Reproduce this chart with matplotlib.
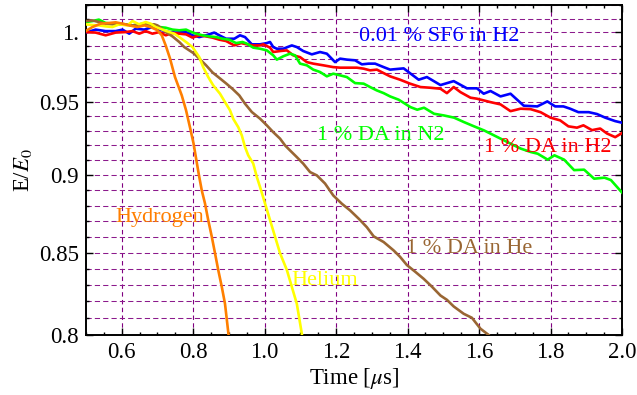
import matplotlib
matplotlib.use('Agg')
import matplotlib.pyplot as plt
from matplotlib.ticker import FixedLocator, FixedFormatter, NullFormatter
import numpy as np

# energy ratio E/E0 versus time in microseconds

sf6_h2_t = [0.499, 0.527, 0.555, 0.583, 0.602, 0.621, 0.639, 0.663, 0.686, 0.705,
            0.733, 0.751, 0.780, 0.798, 0.817, 0.836, 0.859, 0.873, 0.892, 0.915,
            0.931, 0.945, 0.964, 0.987, 1.006, 1.015, 1.024, 1.034, 1.052, 1.076,
            1.090, 1.108, 1.132, 1.155, 1.174, 1.197, 1.211, 1.230, 1.253, 1.272,
            1.291, 1.309, 1.333, 1.351, 1.389, 1.431, 1.454, 1.492, 1.529, 1.566,
            1.594, 1.613, 1.632, 1.660, 1.688, 1.725, 1.763, 1.791, 1.813, 1.836,
            1.855, 1.878, 1.907, 1.930, 1.953, 1.981, 2.000]
sf6_h2_v = [0.9996, 1.0018, 1.0007, 1.0007, 1.0018, 0.9988, 1.0025, 1.0018, 1.0037, 1.0018,
            1.0000, 0.9996, 1.0000, 0.9976, 0.9963, 0.9976, 0.9996, 0.9976, 0.9951, 0.9951,
            0.9976, 0.9963, 0.9910, 0.9910, 0.9919, 0.9927, 0.9890, 0.9878, 0.9878, 0.9902,
            0.9890, 0.9861, 0.9837, 0.9854, 0.9842, 0.9781, 0.9806, 0.9799, 0.9794, 0.9765,
            0.9770, 0.9770, 0.9745, 0.9727, 0.9736, 0.9655, 0.9674, 0.9617, 0.9645, 0.9594,
            0.9594, 0.9556, 0.9575, 0.9537, 0.9556, 0.9472, 0.9467, 0.9502, 0.9467, 0.9467,
            0.9451, 0.9427, 0.9427, 0.9414, 0.9389, 0.9365, 0.9354]

da_h2_t = [0.499, 0.527, 0.555, 0.583, 0.611, 0.630, 0.649, 0.667, 0.686, 0.705,
           0.723, 0.742, 0.761, 0.780, 0.798, 0.817, 0.836, 0.854, 0.873, 0.892,
           0.915, 0.934, 0.950, 0.968, 0.987, 0.996, 1.015, 1.024, 1.043, 1.062,
           1.080, 1.099, 1.118, 1.136, 1.164, 1.192, 1.211, 1.258, 1.277, 1.295,
           1.314, 1.333, 1.351, 1.379, 1.407, 1.436, 1.464, 1.492, 1.510, 1.529,
           1.548, 1.576, 1.594, 1.632, 1.660, 1.688, 1.716, 1.744, 1.772, 1.800,
           1.827, 1.850, 1.874, 1.892, 1.916, 1.939, 1.958, 1.981, 2.000]
da_h2_v = [1.0000, 0.9996, 0.9976, 0.9996, 1.0000, 1.0007, 0.9988, 1.0007, 0.9988, 1.0000,
           0.9976, 0.9993, 0.9988, 0.9983, 0.9959, 0.9976, 0.9968, 0.9959, 0.9944, 0.9934,
           0.9902, 0.9919, 0.9910, 0.9902, 0.9902, 0.9910, 0.9886, 0.9854, 0.9861, 0.9866,
           0.9830, 0.9817, 0.9781, 0.9770, 0.9758, 0.9745, 0.9741, 0.9741, 0.9734, 0.9722,
           0.9727, 0.9702, 0.9679, 0.9655, 0.9627, 0.9603, 0.9598, 0.9591, 0.9560, 0.9603,
           0.9567, 0.9528, 0.9521, 0.9497, 0.9481, 0.9434, 0.9451, 0.9448, 0.9427, 0.9389,
           0.9370, 0.9329, 0.9320, 0.9336, 0.9303, 0.9314, 0.9280, 0.9255, 0.9283]

da_n2_t = [0.499, 0.518, 0.536, 0.555, 0.574, 0.593, 0.611, 0.630, 0.649, 0.667,
           0.686, 0.705, 0.723, 0.742, 0.761, 0.780, 0.789, 0.808, 0.826, 0.845,
           0.864, 0.882, 0.901, 0.920, 0.938, 0.950, 0.968, 0.987, 1.006, 1.024,
           1.034, 1.052, 1.071, 1.085, 1.099, 1.118, 1.136, 1.155, 1.174, 1.192,
           1.211, 1.230, 1.253, 1.277, 1.295, 1.314, 1.333, 1.351, 1.375, 1.408,
           1.427, 1.446, 1.474, 1.502, 1.530, 1.558, 1.586, 1.614, 1.642, 1.670,
           1.698, 1.717, 1.745, 1.764, 1.792, 1.811, 1.838, 1.866, 1.894, 1.922,
           1.951, 1.969, 2.000]
da_n2_v = [1.0074, 1.0081, 1.0092, 1.0067, 1.0062, 1.0057, 1.0057, 1.0049, 1.0057, 1.0067,
           1.0042, 1.0037, 1.0032, 1.0018, 1.0013, 1.0018, 1.0007, 0.9988, 0.9976, 0.9968,
           0.9963, 0.9951, 0.9944, 0.9919, 0.9927, 0.9915, 0.9886, 0.9878, 0.9866, 0.9830,
           0.9799, 0.9823, 0.9842, 0.9830, 0.9770, 0.9758, 0.9727, 0.9710, 0.9679, 0.9698,
           0.9686, 0.9674, 0.9631, 0.9627, 0.9603, 0.9579, 0.9560, 0.9537, 0.9514, 0.9462,
           0.9444, 0.9458, 0.9416, 0.9404, 0.9389, 0.9358, 0.9329, 0.9301, 0.9267, 0.9233,
           0.9199, 0.9177, 0.9154, 0.9143, 0.9103, 0.9132, 0.9103, 0.9033, 0.9036, 0.8976,
           0.8983, 0.8967, 0.8885]

hydrogen_t = [0.499, 0.518, 0.541, 0.564, 0.583, 0.602, 0.621, 0.644, 0.663, 0.681,
              0.700, 0.712, 0.723, 0.735, 0.749, 0.768, 0.780, 0.791, 0.801, 0.809,
              0.816, 0.824, 0.833, 0.842, 0.852, 0.861, 0.870, 0.880, 0.889, 0.899,
              0.905]
hydrogen_v = [1.0007, 1.0037, 1.0062, 1.0067, 1.0072, 1.0062, 1.0049, 1.0037, 1.0049, 1.0037,
              1.0013, 0.9976, 0.9902, 0.9808, 0.9674, 0.9544, 0.9440, 0.9322, 0.9212, 0.9098,
              0.9000, 0.8899, 0.8814, 0.8707, 0.8601, 0.8497, 0.8393, 0.8289, 0.8186, 0.8000,
              0.7950]

helium_t = [0.499, 0.518, 0.536, 0.555, 0.574, 0.593, 0.616, 0.630, 0.649, 0.667,
            0.681, 0.695, 0.714, 0.733, 0.747, 0.761, 0.780, 0.798, 0.817, 0.828,
            0.842, 0.856, 0.875, 0.889, 0.903, 0.912, 0.926, 0.936, 0.945, 0.954,
            0.968, 0.978, 0.987, 1.001, 1.015, 1.029, 1.043, 1.062, 1.076, 1.090,
            1.104, 1.108]
helium_v = [1.0057, 1.0052, 1.0049, 1.0042, 1.0037, 1.0057, 1.0049, 1.0081, 1.0057, 1.0074,
            1.0062, 1.0037, 1.0018, 1.0000, 0.9988, 0.9963, 0.9927, 0.9890, 0.9817, 0.9745,
            0.9674, 0.9615, 0.9556, 0.9497, 0.9440, 0.9381, 0.9324, 0.9267, 0.9188, 0.9132,
            0.9077, 0.8988, 0.8922, 0.8814, 0.8707, 0.8601, 0.8497, 0.8393, 0.8289, 0.8186,
            0.8007, 0.7950]

da_he_t = [0.499, 0.518, 0.536, 0.555, 0.574, 0.593, 0.611, 0.630, 0.653, 0.677,
           0.691, 0.700, 0.709, 0.723, 0.742, 0.761, 0.775, 0.789, 0.803, 0.817,
           0.836, 0.854, 0.873, 0.892, 0.910, 0.929, 0.945, 0.964, 0.987, 1.006,
           1.024, 1.043, 1.057, 1.071, 1.090, 1.108, 1.127, 1.146, 1.169, 1.192,
           1.216, 1.239, 1.263, 1.286, 1.305, 1.333, 1.361, 1.379, 1.398, 1.421,
           1.445, 1.468, 1.492, 1.510, 1.529, 1.557, 1.580, 1.604, 1.627, 1.640]
da_he_v = [1.0081, 1.0086, 1.0074, 1.0062, 1.0057, 1.0062, 1.0057, 1.0049, 1.0057, 1.0057,
           1.0057, 1.0049, 1.0032, 1.0000, 0.9968, 0.9927, 0.9890, 0.9866, 0.9842, 0.9806,
           0.9758, 0.9707, 0.9668, 0.9629, 0.9590, 0.9544, 0.9486, 0.9428, 0.9382, 0.9336,
           0.9289, 0.9245, 0.9199, 0.9165, 0.9120, 0.9076, 0.9020, 0.8998, 0.8944, 0.8866,
           0.8812, 0.8769, 0.8716, 0.8661, 0.8603, 0.8567, 0.8514, 0.8474, 0.8423, 0.8382,
           0.8338, 0.8290, 0.8236, 0.8210, 0.8170, 0.8126, 0.8102, 0.8037, 0.8000, 0.7970]

series = [
    (sf6_h2_t, sf6_h2_v, '#0000ff'),
    (da_h2_t, da_h2_v, '#ff0000'),
    (da_n2_t, da_n2_v, '#00ff00'),
    (da_he_t, da_he_v, '#996633'),
    (helium_t, helium_v, '#ffff00'),
    (hydrogen_t, hydrogen_v, '#ff7f00'),
]

# label text, anchor (time, E/E0), colour
labels = [
    ('0.01 % SF6 in H2', 1.489, 0.9968, '#0000ff'),
    ('1 % DA in H2', 1.793, 0.9188, '#ff0000'),
    ('1 % DA in N2', 1.325, 0.9267, '#00ff00'),
    ('1 % DA in He', 1.572, 0.8525, '#996633'),
    ('Helium', 1.169, 0.8328, '#ffff00'),
    ('Hydrogen', 0.707, 0.8726, '#ff7f00'),
]

x_major = [0.6, 0.8, 1.0, 1.2, 1.4, 1.6, 1.8, 2.0]
x_labels = ['0.6', '0.8', '1.0', '1.2', '1.4', '1.6', '1.8', '2.0']
y_major = [0.8, 0.85, 0.9, 0.95, 1.0]
y_labels = ['0.8', '0.85', '0.9', '0.95', '1.']

plt.rcParams['font.family'] = ['Liberation Serif', 'DejaVu Serif']
plt.rcParams['mathtext.fontset'] = 'stix'

fig = plt.figure(figsize=(6.37, 3.95), dpi=100)
ax = fig.add_axes([86 / 637, 60 / 395, 536 / 637, 330.5 / 395])
ax.set_yscale('log')

for t, v, c in series:
    ax.plot(t, v, color=c, linewidth=1.9, zorder=3, solid_joinstyle='round')

for text, tx, ty, c in labels:
    ax.text(tx, ty, text, color=c, fontsize=16, ha='center', va='center', zorder=4)

ax.set_xlim(0.5, 2.0)
ax.set_ylim(0.8, 1.0205)

ax.xaxis.set_major_locator(FixedLocator(x_major))
ax.xaxis.set_major_formatter(FixedFormatter(x_labels))
ax.xaxis.set_minor_locator(FixedLocator(np.arange(0.5, 2.001, 0.05)))
ax.yaxis.set_major_locator(FixedLocator(y_major))
ax.yaxis.set_major_formatter(FixedFormatter(y_labels))
ax.yaxis.set_minor_locator(FixedLocator(np.round(np.arange(0.80, 1.021, 0.01), 2)))
ax.yaxis.set_minor_formatter(NullFormatter())

ax.set_axisbelow(True)
ax.grid(True, which='major', axis='x', color='#800080',
        linestyle=(0, (4, 3)), linewidth=0.8, zorder=0)
ax.grid(True, which='both', axis='y', color='#8c1a8c',
        linestyle=(0, (5, 3)), linewidth=0.75, zorder=0)

ax.tick_params(which='both', direction='in', top=True, right=True,
               labelsize=16.5, width=1.0, colors='black')
ax.tick_params(which='major', length=5, pad=5)
ax.tick_params(which='minor', length=2.5)
for s in ax.spines.values():
    s.set_linewidth(1.4)

ax.set_xlabel(r'Time [$\mu$s]', fontsize=16.5, labelpad=2)
ax.set_ylabel(r'E/$E_0$', fontsize=16.5, labelpad=4)

fig.savefig('out.png', dpi=100)
